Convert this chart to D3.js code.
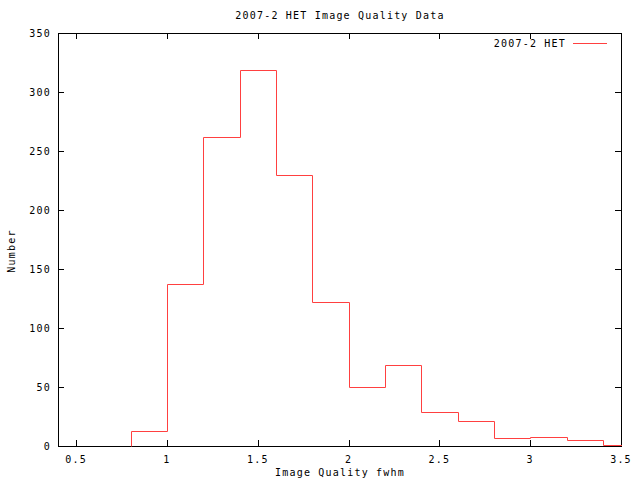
<!DOCTYPE html>
<html>
<head>
<meta charset="utf-8">
<script src="https://cdn.jsdelivr.net/npm/d3@7"></script>
<style>
  body { margin: 0; background: #fff; }
  text { font-family: "DejaVu Sans Mono", monospace; font-size: 10px; letter-spacing: 1.2px; fill: #000; }
</style>
</head>
<body>
<div id="chart"></div>
<script>
"use strict";

const width = 640;
const height = 480;
const margin = { top: 33, right: 19, bottom: 34, left: 58 };

// bin left edges (width 0.2) and counts
const binStarts = [0.8, 1.0, 1.2, 1.4, 1.6, 1.8, 2.0, 2.2, 2.4, 2.6, 2.8, 3.0, 3.2, 3.4];
const counts = [13, 137, 262, 319, 230, 122, 50, 69, 29, 21, 7, 8, 5, 1];
const binWidth = 0.2;

const xTicks = [0.5, 1, 1.5, 2, 2.5, 3, 3.5];
const yTicks = [0, 50, 100, 150, 200, 250, 300, 350];

const svg = d3.select("#chart").append("svg")
  .attr("width", width)
  .attr("height", height);

const x = d3.scaleLinear()
  .domain([0.4, 3.5])
  .range([margin.left, width - margin.right]);

const y = d3.scaleLinear()
  .domain([0, 350])
  .range([height - margin.bottom, margin.top]);

const plotLeft = x.range()[0];
const plotRight = x.range()[1];
const plotTop = y.range()[1];
const plotBottom = y.range()[0];
const tickLen = 6;

// frame
svg.append("rect")
  .attr("x", plotLeft + 0.5)
  .attr("y", plotTop + 0.5)
  .attr("width", plotRight - plotLeft)
  .attr("height", plotBottom - plotTop)
  .attr("fill", "none")
  .attr("stroke", "#000");

// inward ticks, mirrored on both sides
const ticks = svg.append("g").attr("stroke", "#000");

xTicks.forEach(function(t) {
  const px = Math.round(x(t)) + 0.5;
  ticks.append("line").attr("x1", px).attr("x2", px)
    .attr("y1", plotBottom).attr("y2", plotBottom - tickLen);
  ticks.append("line").attr("x1", px).attr("x2", px)
    .attr("y1", plotTop).attr("y2", plotTop + tickLen);
  svg.append("text")
    .attr("x", x(t))
    .attr("y", plotBottom + 17)
    .attr("text-anchor", "middle")
    .text(t);
});

yTicks.forEach(function(t) {
  const py = Math.round(y(t)) + 0.5;
  ticks.append("line").attr("x1", plotLeft).attr("x2", plotLeft + tickLen)
    .attr("y1", py).attr("y2", py);
  ticks.append("line").attr("x1", plotRight).attr("x2", plotRight - tickLen)
    .attr("y1", py).attr("y2", py);
  svg.append("text")
    .attr("x", plotLeft - 7)
    .attr("y", y(t))
    .attr("dy", "0.35em")
    .attr("text-anchor", "end")
    .text(t);
});

// histogram steps
const pts = [[binStarts[0], 0]];
binStarts.forEach(function(b, i) {
  pts.push([b, counts[i]]);
  pts.push([b + binWidth, counts[i]]);
});

svg.append("clipPath").attr("id", "clip")
  .append("rect")
  .attr("x", plotLeft).attr("y", plotTop)
  .attr("width", plotRight - plotLeft + 1)
  .attr("height", plotBottom - plotTop + 1);

const line = d3.line()
  .x(function(d) { return Math.round(x(d[0])) + 0.5; })
  .y(function(d) { return Math.round(y(d[1])) + 0.5; });

svg.append("path")
  .datum(pts)
  .attr("clip-path", "url(#clip)")
  .attr("d", line)
  .attr("fill", "none")
  .attr("stroke", "#ff4040")
  .attr("stroke-width", 1);

// legend
svg.append("text")
  .attr("x", 566)
  .attr("y", 43)
  .attr("dy", "0.35em")
  .attr("text-anchor", "end")
  .text("2007-2 HET");

svg.append("line")
  .attr("x1", 573).attr("x2", 607)
  .attr("y1", 43.5).attr("y2", 43.5)
  .attr("stroke", "#ff4040");

// titles
svg.append("text")
  .attr("x", 340)
  .attr("y", 19)
  .attr("text-anchor", "middle")
  .text("2007-2 HET Image Quality Data");

svg.append("text")
  .attr("x", 340)
  .attr("y", 476)
  .attr("text-anchor", "middle")
  .text("Image Quality fwhm");

svg.append("text")
  .attr("transform", "translate(15,251) rotate(-90)")
  .attr("text-anchor", "middle")
  .text("Number");
</script>
</body>
</html>
